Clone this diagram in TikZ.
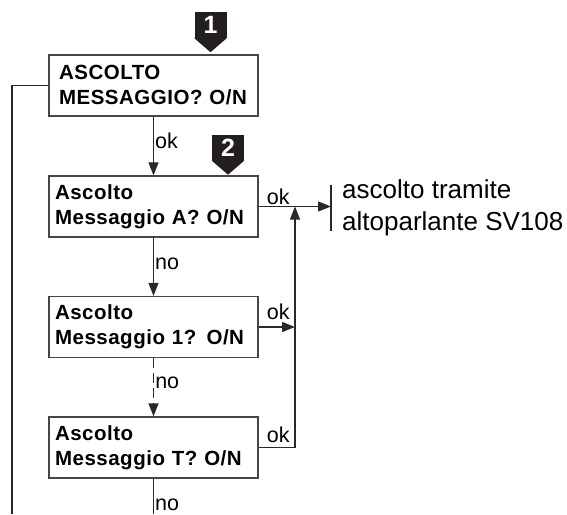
\documentclass[tikz,border=0pt]{standalone}
\usepackage{fontspec}
\setmainfont{Liberation Sans}
\newfontfamily\boxfont[LetterSpace=2.5]{Liberation Sans}
\usepackage{tikz}
\usetikzlibrary{arrows.meta,calc,positioning}
\definecolor{linegrey}{RGB}{40,40,40}
\definecolor{boxgrey}{RGB}{70,70,70}
\definecolor{badgedark}{RGB}{35,31,32}
\tikzset{
  flow/.style={-{Triangle[length=13pt,width=10pt]}, line width=1.1pt, draw=linegrey},
  line/.style={line width=1.1pt, draw=linegrey},
  box/.style={
    draw=boxgrey,
    line width=1.3pt,
    fill=white,
    minimum width=209pt,
    minimum height=61pt,
    text width=197pt,
    inner xsep=6pt,
    align=left,
    font=\boxfont\bfseries\fontsize{20.5}{25}\selectfont
  },
  topbox/.style={box, text width=189pt, inner xsep=10pt},
  badge/.style={
    fill=badgedark,
    text=white,
    minimum width=32pt,
    minimum height=26pt,
    inner sep=0pt,
    font=\bfseries\fontsize{25}{25}\selectfont
  },
  lbl/.style={font=\fontsize{21.5}{24}\selectfont, inner sep=1pt},
  outtext/.style={align=left, inner xsep=11pt, inner ysep=0pt, font=\fontsize{26}{32}\selectfont}
}

\begin{document}
\begin{tikzpicture}[x=1pt,y=-1pt]
  \useasboundingbox (0,0) rectangle (567,514);

  % Menu boxes
  \node[topbox] (ask) at (153.5,85.5) {ASCOLTO\\MESSAGGIO?~O/N};
  \node[box] (msgA) at (153.5,206.5) {Ascolto\\Messaggio A? O/N};
  \node[box] (msg1) at (153.5,327) {Ascolto\\Messaggio 1? O/N};
  \node[box] (msgT) at (153.5,447.5) {Ascolto\\Messaggio T? O/N};

  % Step badges
  \node[badge] (step1) at (210.5,25) {1};
  \fill[badgedark] (step1.south west) -- (step1.south east) -- ([yshift=-14pt]step1.south) -- cycle;
  \node[badge] (step2) at (228,147.5) {2};
  \fill[badgedark] (step2.south west) -- (step2.south east) -- ([yshift=-14pt]step2.south) -- cycle;

  % Result
  \node[outtext,anchor=west] (out) at (331,208) {ascolto tramite\\altoparlante SV108};
  \draw[line] ([yshift=-5pt]out.north west) -- ([yshift=5pt]out.south west);

  \coordinate (join) at (295,0);
  \coordinate (bottom) at (153.5,514);
  \coordinate (back) at (12,514);

  % Main path
  \draw[flow] (ask) -- node[lbl,right,pos=0.42] {ok} (msgA);
  \draw[flow] (msgA) -- node[lbl,right,pos=0.45] {no} (msg1);
  \draw[flow,line width=1.5pt,dash pattern=on 10pt off 5pt] (msg1) -- node[lbl,right,pos=0.42] {no} (msgT);
  \draw[line] (msgT.south) -- node[lbl,right,pos=0.75] {no} (bottom);
  \draw[line] (ask.west) -| (back);

  % Confirm paths
  \draw[flow] (msgA.east) -- (msgA.east -| out.west);
  \draw[flow] (msg1.east) -- (msg1.east -| join);
  \draw[flow] (msgT.east) -| (msgA.east -| join);
  \node[lbl,anchor=south west] (okA) at ([xshift=7pt,yshift=1pt]msgA.east) {ok};
  \node[lbl,anchor=south west] (ok1) at ([xshift=7pt,yshift=6pt]msg1.east) {ok};
  \node[lbl,anchor=south west] (okT) at ([xshift=7pt,yshift=4pt]msgT.east) {ok};
\end{tikzpicture}
\end{document}
